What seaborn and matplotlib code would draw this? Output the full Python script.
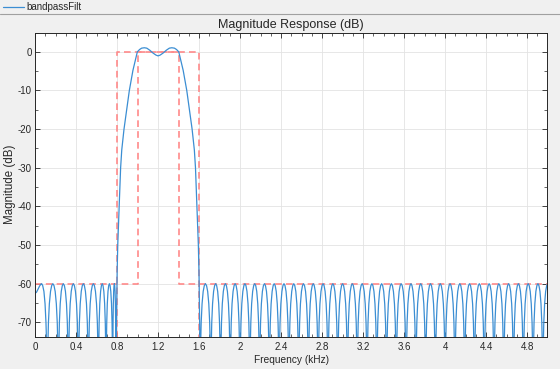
import numpy as np
import pandas as pd
import seaborn as sns
import matplotlib.pyplot as plt
from matplotlib.lines import Line2D
from matplotlib.ticker import MultipleLocator, FuncFormatter

# ---- data (frequency in kHz, magnitude in dB) ----

# first lower-stopband lobe: -62.5 dB at 0 Hz, peak at 0.065 kHz, null at 0.12 kHz
first_khz = [0.0, 0.015, 0.03, 0.045, 0.058, 0.065, 0.075, 0.087, 0.098, 0.107, 0.114]
first_db = [-62.5, -62.2, -61.4, -60.6, -60.1, -60.0, -60.5, -62.0, -65.2, -70.1, -76.4]

# nulls of the stopband ripple (every lobe between two nulls peaks at -60 dB)
lower_nulls = [0.12, 0.228, 0.325, 0.423, 0.52, 0.618, 0.693, 0.758, 0.79]
upper_nulls = [1.61, 1.714, 1.809, 1.904, 1.999, 2.095, 2.19, 2.285, 2.38, 2.476,
               2.571, 2.666, 2.761, 2.857, 2.952, 3.047, 3.142, 3.238, 3.333, 3.428,
               3.523, 3.619, 3.714, 3.809, 3.904, 4.0, 4.095, 4.19, 4.285, 4.381,
               4.476, 4.571, 4.666, 4.762, 4.857, 4.952, 5.048]

# shape of one ripple lobe: position across the lobe (0 = left null, 1 = right null) and level
lobe_frac = [0, 0.048, 0.101, 0.185, 0.29, 0.395, 0.5, 0.605, 0.71, 0.815, 0.899, 0.952, 1]
lobe_db = [-100, -76.4, -70.1, -65.2, -62.0, -60.5, -60.0, -60.5, -62.0, -65.2, -70.1, -76.4, -100]

# main lobe (transition skirts + passband ripple)
main_khz = [0.792, 0.797, 0.801, 0.807, 0.815, 0.823, 0.835, 0.846, 0.868, 0.895, 0.92,
            0.955, 0.978, 0.998, 1.02, 1.04, 1.066, 1.09, 1.12, 1.15, 1.18, 1.2,
            1.22, 1.25, 1.28, 1.31, 1.334, 1.36, 1.38, 1.402, 1.422, 1.445, 1.48,
            1.505, 1.532, 1.554, 1.565, 1.577, 1.585, 1.593, 1.599, 1.603, 1.608]
main_db = [-75, -64.3, -57, -50, -44, -38.4, -30, -25.4, -20, -14.8, -10,
           -4.8, -2.2, 0, 0.6, 0.95, 1.05, 0.95, 0.4, -0.3, -0.85, -1.05,
           -0.85, -0.3, 0.4, 0.95, 1.05, 0.95, 0.6, 0, -2.2, -4.8, -10,
           -14.8, -20, -25.4, -30, -38.4, -44, -50, -57, -64.3, -75]

# specification mask
mask_pass_khz = [0.8, 0.8, 1.6, 1.6]
mask_pass_db = [-90, 0, 0, -90]
mask_stop_khz = [0.0, 1.0, 1.0, 1.4, 1.4, 5.0]
mask_stop_db = [-60, -60, 0, 0, -60, -60]

xticks = [0, 0.4, 0.8, 1.2, 1.6, 2, 2.4, 2.8, 3.2, 3.6, 4, 4.4, 4.8]
yticks = [-70, -60, -50, -40, -30, -20, -10, 0]


def ripple(nulls):
    xs, ys = [], []
    for a, b in zip(nulls[:-1], nulls[1:]):
        xs += [a + f * (b - a) for f in lobe_frac[:-1]]
        ys += lobe_db[:-1]
    return xs + [nulls[-1]], ys + [lobe_db[-1]]


lo_x, lo_y = ripple(lower_nulls)
hi_x, hi_y = ripple(upper_nulls)

resp = pd.DataFrame({
    "khz": first_khz + lo_x + main_khz + hi_x,
    "db": first_db + lo_y + main_db + hi_y,
})

# ---- figure ----
sns.set_theme(style="whitegrid")
plt.rcParams["font.family"] = ["Liberation Sans", "DejaVu Sans"]
plt.rcParams["axes.unicode_minus"] = False

TXT = "#262626"
BLUE = "#3b8ed3"

fig = plt.figure(figsize=(5.6, 3.69), dpi=100, facecolor="#f0f0f0")
ax = fig.add_axes([35 / 560, 1 - 337 / 369, 512 / 560, 304.5 / 369])
ax.set_facecolor("white")

mask_kw = dict(color="#ff8a8a", lw=1.2, dashes=(4, 2.5), estimator=None, sort=False)
sns.lineplot(x=mask_pass_khz, y=mask_pass_db, ax=ax, **mask_kw)
sns.lineplot(x=mask_stop_khz, y=mask_stop_db, ax=ax, **mask_kw)
sns.lineplot(data=resp, x="khz", y="db", ax=ax, color=BLUE, lw=0.9,
             estimator=None, sort=False)

ax.set_xlim(0, 4.993)
ax.set_ylim(-73.8, 5)
ax.set_xticks(xticks)
ax.set_yticks(yticks)
ax.xaxis.set_major_formatter(FuncFormatter(lambda v, p: f"{v:g}"))
ax.xaxis.set_minor_locator(MultipleLocator(0.1))
ax.yaxis.set_minor_locator(MultipleLocator(5))
ax.tick_params(which="both", direction="in", top=True, right=True, bottom=True, left=True,
               colors=TXT, labelsize=7)
ax.tick_params(axis="y", pad=2.5)
ax.tick_params(axis="x", pad=3.5)
ax.tick_params(which="major", length=3.5, width=0.6)
ax.tick_params(which="minor", length=2, width=0.5)
ax.grid(True, which="major", color="#e3e3e3", lw=0.6)
ax.grid(False, which="minor")
for s in ax.spines.values():
    s.set_color(TXT)
    s.set_linewidth(0.7)

ax.set_xlabel("Frequency (kHz)", fontsize=7.3, color=TXT, labelpad=2)
ax.set_ylabel("Magnitude (dB)", fontsize=8.3, color=TXT)
ax.yaxis.set_label_coords(-19 / 512, 0.5)
ax.set_title("Magnitude Response (dB)", fontsize=9, color=TXT, pad=3.5)

# legend strip above the axes
fig.add_artist(Line2D([3 / 560, 24 / 560], [1 - 7 / 369] * 2, color=BLUE, lw=0.9))
fig.text(26 / 560, 1 - 7 / 369, "bandpassFilt", fontsize=7, va="center", ha="left", color=TXT)
fig.add_artist(Line2D([0, 1], [1 - 14 / 369] * 2, color="#a0a0a0", lw=0.8))

fig.savefig("out.png", dpi=100, facecolor=fig.get_facecolor())
